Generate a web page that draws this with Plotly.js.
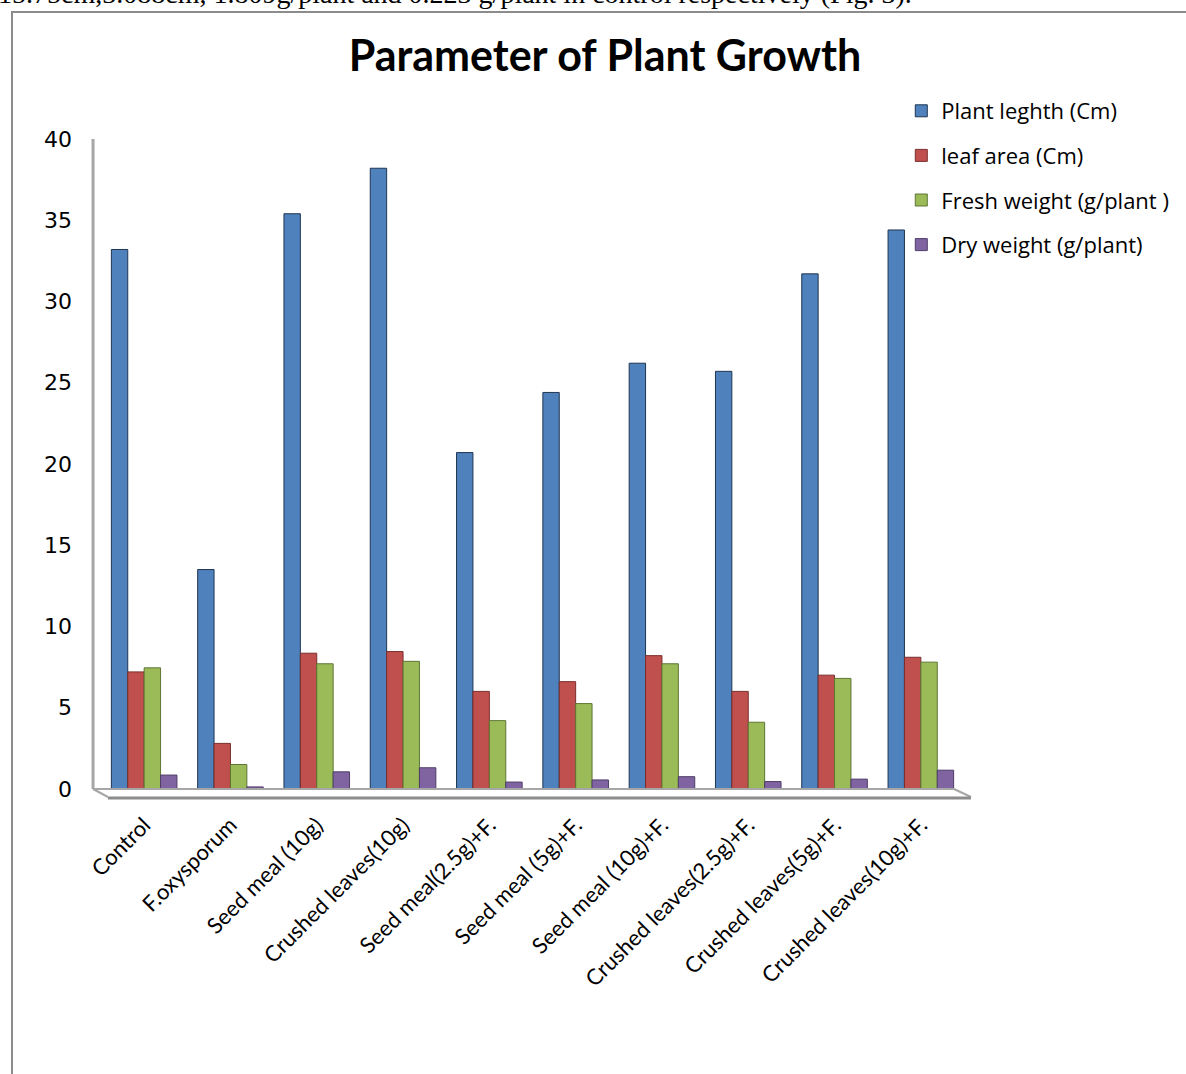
<!DOCTYPE html>
<html>
<head>
<meta charset="utf-8">
<script src="https://cdn.plot.ly/plotly-3.0.1.min.js"></script>
<style>
html,body{margin:0;padding:0;background:#fff;overflow:hidden;}
#wrap{position:relative;width:1186px;height:1074px;overflow:hidden;}
#chart{position:absolute;left:0;top:0;width:1186px;height:1074px;}
#toptext{position:absolute;left:-2px;top:-22px;font-family:"Liberation Serif","Times New Roman",serif;font-size:28px;color:#000;white-space:nowrap;}
#frame{position:absolute;left:11px;top:11px;width:1200px;height:1100px;border-left:2px solid #8c8c8c;border-top:2px solid #8c8c8c;pointer-events:none;}
</style>
</head>
<body>
<div id="wrap">
<div id="toptext">15.75cm,3.088cm, 1.809g/plant and 0.223 g/plant in control respectively (Fig. 3).</div>
<div id="chart"></div>
<div id="frame"></div>
</div>
<script>
const categories = ["Control","F.oxysporum","Seed meal (10g)","Crushed leaves(10g)","Seed meal(2.5g)+F.","Seed meal (5g)+F.","Seed meal (10g)+F.","Crushed leaves(2.5g)+F.","Crushed leaves(5g)+F.","Crushed leaves(10g)+F."];
const plantLength = [33.2, 13.5, 35.4, 38.2, 20.7, 24.4, 26.2, 25.7, 31.7, 34.4];
const leafArea    = [7.2, 2.8, 8.35, 8.45, 6.0, 6.6, 8.2, 6.0, 7.0, 8.1];
const freshWeight = [7.45, 1.5, 7.7, 7.85, 4.2, 5.25, 7.7, 4.1, 6.8, 7.8];
const dryWeight   = [0.85, 0.12, 1.05, 1.3, 0.42, 0.55, 0.75, 0.45, 0.6, 1.15];
const seriesNames = ["Plant leghth (Cm)","leaf area (Cm)","Fresh weight (g/plant )","Dry weight (g/plant)"];
const colors = ["#4F81BD","#C0504D","#9BBB59","#8064A2"];
const edgeColors = ["#1F3550","#7A2E2C","#5E7533","#4E3C66"];
const yTicks = [0,5,10,15,20,25,30,35,40];

const seriesValues = [plantLength, leafArea, freshWeight, dryWeight];
const traces = seriesValues.map((vals, i) => ({
  type: "bar",
  name: seriesNames[i],
  x: categories,
  y: vals,
  legendgroup: "g" + i,
  marker: {color: colors[i], line: {color: edgeColors[i], width: 1}},
  hoverinfo: "x+y+name"
}));

const L = 101, R = 968, T = 139, B = 797;
const W = R - L, H = B - T;
function px(x){return (x - L)/W;}
function py(y){return (B - y)/H;}
const gray = "#A6A6A6";
const shapes = [
  {type:"line", xref:"paper", yref:"paper", x0:px(93), x1:px(93), y0:py(139), y1:py(789), line:{color:gray, width:3}},
  {type:"line", xref:"paper", yref:"paper", x0:px(93), x1:px(958), y0:py(789), y1:py(789), line:{color:gray, width:2}},
  {type:"line", xref:"paper", yref:"paper", x0:px(93), x1:px(108), y0:py(789), y1:py(797), line:{color:gray, width:2}},
  {type:"line", xref:"paper", yref:"paper", x0:px(958), x1:px(975), y0:py(789), y1:py(797), line:{color:gray, width:2}},
  {type:"line", xref:"paper", yref:"paper", x0:px(108), x1:px(975), y0:py(798), y1:py(798), line:{color:"#8C8C8C", width:3}}
];

const layout = {
  width: 1186, height: 1074,
  margin: {l: L, r: 1186 - R, t: T, b: 1074 - B, pad: 0},
  paper_bgcolor: "rgba(0,0,0,0)",
  plot_bgcolor: "rgba(0,0,0,0)",
  title: {text: "<b>Parameter of Plant Growth</b>", x: 605/1186, xanchor: "center", y: 1 - 56/1074, yanchor: "middle", yref: "container",
          font: {family: "Lato, 'Open Sans', sans-serif", size: 43, color: "#000"}},
  barmode: "group",
  bargap: 0.24,
  bargroupgap: 0,
  showlegend: true,
  legend: {x: px(905), xanchor: "left", y: py(90), yanchor: "top", tracegroupgap: 13,
           font: {family: "'Open Sans', Lato, sans-serif", size: 22, color: "#000"}, bgcolor: "rgba(0,0,0,0)"},
  xaxis: {type: "category", showline: false, showgrid: false, zeroline: false, ticks: "",
          tickangle: -45, tickfont: {family: "Lato, 'Open Sans', sans-serif", size: 22, color: "#000"}, ticklabelstandoff: 10},
  yaxis: {range: [-0.5, 40], tickvals: yTicks, ticktext: yTicks.map(String), showline: false, showgrid: false, zeroline: false,
          ticks: "", ticklabelstandoff: 28,
          tickfont: {family: "'DejaVu Sans', Verdana, sans-serif", size: 22, color: "#000"}},
  shapes: shapes
};
Plotly.newPlot("chart", traces, layout, {displayModeBar: false, staticPlot: true});
</script>
</body>
</html>
